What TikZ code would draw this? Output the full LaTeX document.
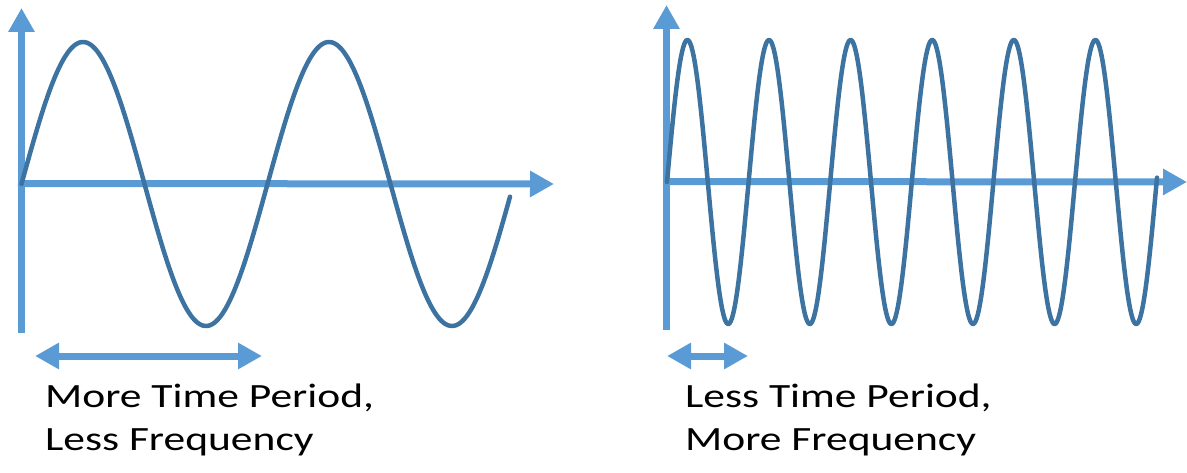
\documentclass[tikz,border=0pt]{standalone}
\usepackage{fontspec}
\setmainfont{Carlito}
\usetikzlibrary{arrows.meta}
\definecolor{axisblue}{HTML}{5B9BD5}
\definecolor{wavecol}{HTML}{3C73A0}
\tikzset{
  axisline/.style={draw=axisblue, line width=7pt, -{Triangle[length=24pt,width=25pt]}},
  spanline/.style={draw=axisblue, line width=7pt, {Triangle[length=24pt,width=25pt]}-{Triangle[length=24pt,width=25pt]}},
  wave/.style={draw=wavecol, line width=4.5pt, line join=round, line cap=round},
  caption/.style={anchor=base west, inner sep=0pt, font=\fontsize{34pt}{43pt}\selectfont}
}
\begin{document}
\begin{tikzpicture}[x=1pt,y=-1pt]
\useasboundingbox (0,0) rectangle (1187,473);
% left panel
\coordinate (Lo) at (21.5,183.5);
\coordinate (Lb) at (21.5,333);
\coordinate (Lt) at (21.5,8);
\coordinate (Lr) at (554,184);
\draw[axisline] (Lb) -- (Lt);
\draw[axisline] (18,183.5) -- (Lr);
\draw[wave] plot[domain=21.5:510, samples=300, smooth] (\x, {184 - 142*sin((\x-21.5)*1.463415)});
\coordinate (La) at (35,356);
\coordinate (Lc) at (262,356);
\draw[spanline] (La) -- (Lc);
\node[caption] (L1) at (45,407) {\scalebox{1.28}[1]{More Time Period,}};
\node[caption] (L2) at (45,450) {\scalebox{1.28}[1]{Less Frequency}};
% right panel
\coordinate (Rb) at (666.5,330);
\coordinate (Rt) at (666.5,5);
\coordinate (Rr) at (1187,182);
\draw[axisline] (Rb) -- (Rt);
\draw[axisline] (663,181.5) -- (Rr);
\draw[wave] plot[domain=667:1157, samples=600, smooth] (\x, {182 - 142*sin((\x-667)*4.411765)});
\coordinate (Ra) at (667,356);
\coordinate (Rc) at (748,356);
\draw[spanline] (Ra) -- (Rc);
\node[caption] (R1) at (685,407) {\scalebox{1.28}[1]{Less Time Period,}};
\node[caption] (R2) at (685,450) {\scalebox{1.28}[1]{More Frequency}};
\end{tikzpicture}
\end{document}
